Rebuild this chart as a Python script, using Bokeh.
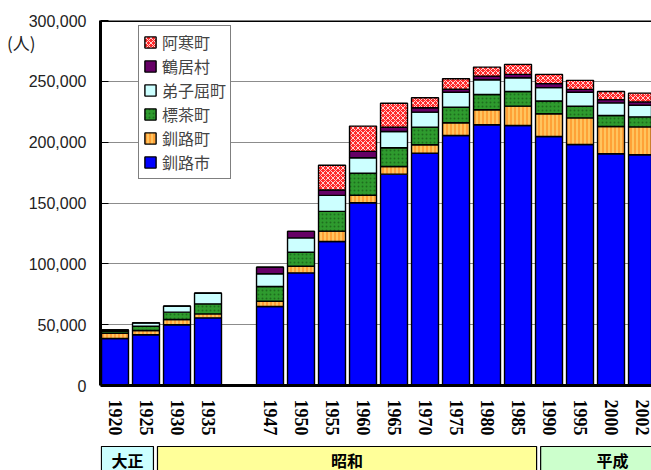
from bokeh.plotting import figure
from bokeh.models import (ColumnDataSource, FixedTicker, NumeralTickFormatter,
                          Legend, LegendItem, Span, LinearAxis)
from bokeh.layouts import column
from bokeh.transform import stack
from bokeh.core.properties import value
from bokeh.embed import file_html
from bokeh.resources import INLINE

# ---------------- data ----------------
years = ["1920", "1925", "1930", "1935", "", "1947", "1950", "1955", "1960",
         "1965", "1970", "1975", "1980", "1985", "1990", "1995", "2000", "2002"]
kushiro_city = [38600, 41700, 49900, 55600, 0, 64900, 92600, 118400, 150200,
                173700, 191000, 205500, 214300, 213700, 204700, 198100, 190500, 189600]
kushiro_town = [4300, 3500, 4400, 3300, 0, 4400, 5400, 8500, 6200,
                6300, 6900, 10400, 12300, 15900, 18700, 21900, 22400, 23000]
shibecha = [1700, 3500, 6000, 8200, 0, 12100, 11500, 16200, 18100,
            15400, 14500, 12800, 12600, 12100, 10400, 9500, 9000, 8200]
teshikaga = [1000, 2800, 4900, 8700, 0, 10400, 11800, 13200, 12700,
             13400, 12300, 12300, 12100, 11300, 11000, 11500, 10400, 9600]
tsurui = [0, 0, 0, 0, 0, 5400, 5400, 4400, 5200,
          3500, 3600, 2600, 3000, 2700, 3300, 2400, 2700, 2700]
akan = [0, 0, 0, 0, 0, 0, 0, 20300, 20800,
        19700, 8200, 8500, 7400, 8200, 7600, 7400, 6600, 7200]
series_names = ["釧路市", "釧路町", "標茶町", "弟子屈町", "鶴居村", "阿寒町"]
y_ticks = [0, 50000, 100000, 150000, 200000, 250000, 300000]
unit_label = "(人)"
eras = ["大正", "昭和", "平成"]
era_colors = ["#CCFFFF", "#FFFF99", "#CCFFCC"]
# era box extents along the category axis (layout)
era_left = [-0.44, 1.37, 13.73]
era_right = [1.24, 13.60, 18.37]

# ---------------- layout constants ----------------
X_START, X_END = -0.468, 17.306
JP = "Noto Sans CJK JP"

xs = list(range(len(years)))
keys = ["s0", "s1", "s2", "s3", "s4", "s5"]
src = ColumnDataSource(dict(x=xs, s0=kushiro_city, s1=kushiro_town, s2=shibecha,
                            s3=teshikaga, s4=tsurui, s5=akan))

p = figure(width=651, height=445, output_backend="svg", toolbar_location=None,
           x_range=(X_START, X_END), y_range=(0, 300000),
           min_border_left=100, min_border_right=0, min_border_top=20,
           min_border_bottom=60)
p.outline_line_color = None
p.background_fill_color = "white"
p.border_fill_color = "white"

fills = ["#0000FF", "#FFC45E", "#2E9B2E", "#CCFFFF", "#660066", "#FF2A2A"]
hatches = [None, "vertical_line", "dot", None, None, "diagonal_cross"]
hcolors = [None, "#FF8A1C", "#1E6E1E", None, None, "#FFFFFF"]
hweights = [1, 1.2, 1.2, 1, 1, 0.8]
hscales = [4, 4, 4, 4, 4, 5]

renderers = []
for i, k in enumerate(keys):
    kwargs = dict(x="x", width=0.87, source=src, fill_color=fills[i],
                  line_color="black", line_width=1.4)
    if hatches[i]:
        kwargs.update(hatch_pattern=hatches[i], hatch_color=hcolors[i],
                      hatch_scale=hscales[i], hatch_weight=hweights[i])
    r = p.vbar(bottom=stack(*keys[:i]), top=stack(*keys[:i + 1]), **kwargs)
    renderers.append(r)

# axes
p.xgrid.grid_line_color = None
p.ygrid.grid_line_color = "#8C8C8C"
p.ygrid.grid_line_width = 1
p.yaxis.ticker = FixedTicker(ticks=y_ticks)
p.yaxis.formatter = NumeralTickFormatter(format="0,0")
p.yaxis.axis_line_width = 3
p.yaxis.axis_line_color = "black"
p.yaxis.major_tick_out = 0
p.yaxis.major_tick_in = 8
p.yaxis.minor_tick_line_color = None
p.yaxis.major_label_standoff = 14
p.yaxis.major_label_text_font = "Liberation Sans"
p.yaxis.major_label_text_font_size = "16px"
p.yaxis.major_label_text_color = "#222222"

# unit label as an extra, line-less axis on the left
unit_axis = LinearAxis(ticker=FixedTicker(ticks=[282000]),
                       major_label_overrides={282000: unit_label},
                       axis_line_color=None, major_tick_line_color=None,
                       minor_tick_line_color=None, major_label_standoff=-16,
                       major_label_text_font=JP, major_label_text_font_size="17px",
                       major_label_text_color="#222222")
p.add_layout(unit_axis, "left")

tick_pos = [i for i, y in enumerate(years) if y]
p.xaxis.ticker = FixedTicker(ticks=tick_pos)
p.xaxis.major_label_overrides = {i: years[i] for i in tick_pos}
p.xaxis.major_label_orientation = "vertical"
p.xaxis.axis_line_width = 3
p.xaxis.axis_line_color = "black"
p.xaxis.major_tick_out = 0
p.xaxis.major_tick_in = 0
p.xaxis.minor_tick_line_color = None
p.xaxis.major_label_standoff = 14
p.xaxis.major_label_text_font = "Liberation Serif"
p.xaxis.major_label_text_font_style = "bold"
p.xaxis.major_label_text_font_size = "18px"
p.xaxis.major_label_text_color = "black"

p.add_layout(Span(location=300000, dimension="width", line_color="black", line_width=3))

items = [LegendItem(label=series_names[i], renderers=[renderers[i]])
         for i in reversed(range(len(keys)))]
leg = Legend(items=items, location=(38, 206), orientation="vertical",
             label_text_font=JP, label_text_font_size="16px",
             glyph_width=14, glyph_height=14, label_height=20, spacing=0,
             padding=4, margin=0, label_standoff=5,
             border_line_color="black", border_line_width=1.5,
             background_fill_color="white", background_fill_alpha=1)
p.add_layout(leg)

# era band
q = figure(width=651, height=25, output_backend="svg", toolbar_location=None,
           x_range=(X_START, X_END), y_range=(0, 25),
           min_border_left=100, min_border_right=0, min_border_top=0,
           min_border_bottom=0)
q.outline_line_color = None
q.axis.visible = False
q.grid.visible = False
esrc = ColumnDataSource(dict(left=era_left, right=era_right, color=era_colors,
                             name=eras,
                             mid=[(a + b) / 2 for a, b in zip(era_left, era_right)]))
q.quad(left="left", right="right", top=24, bottom=-5, fill_color="color",
       line_color="black", line_width=1.2, source=esrc)
q.text(x="mid", y=11, text="name", source=esrc, text_font=value(JP),
       text_font_style="bold", text_font_size="16px", text_align="center",
       text_baseline="middle", text_color="black")

layout = column(p, q, spacing=0)
open("out.html", "w").write(file_html(layout, INLINE))
